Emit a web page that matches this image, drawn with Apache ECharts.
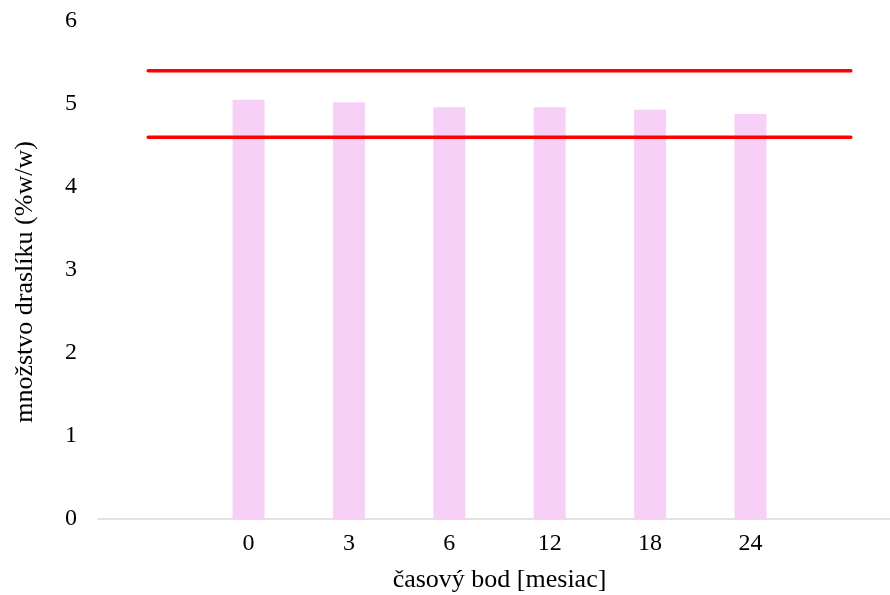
<!DOCTYPE html>
<html>
<head>
<meta charset="utf-8">
<script src="https://cdn.jsdelivr.net/npm/echarts@6/dist/echarts.min.js"></script>
<style>html,body{margin:0;padding:0;background:#fff;}#c{width:890px;height:595px;}</style>
</head>
<body>
<div id="c"></div>
<script>
var categories = ["", "0", "3", "6", "12", "18", "24", ""];
var potassium = [null, 5.05, 5.02, 4.96, 4.96, 4.93, 4.88, null];
var upperLimit = [5.4, 5.4, 5.4, 5.4, 5.4, 5.4, 5.4, 5.4];
var lowerLimit = [4.6, 4.6, 4.6, 4.6, 4.6, 4.6, 4.6, 4.6];
var yTicks = [0, 1, 2, 3, 4, 5, 6];

var font = 'Liberation Serif';
var chart = echarts.init(document.getElementById('c'), null, {renderer: 'canvas'});
chart.setOption({
  animation: false,
  backgroundColor: '#ffffff',
  textStyle: {fontFamily: font},
  grid: {left: 98, top: 21, width: 803, bottom: 76, containLabel: false, outerBoundsMode: 'none'},
  xAxis: {
    type: 'category',
    data: categories,
    boundaryGap: true,
    axisLine: {show: true, lineStyle: {color: '#D9D9D9', width: 1.5}},
    axisTick: {show: false},
    axisLabel: {color: '#000', fontFamily: font, fontSize: 24, margin: 13, interval: 0},
    name: 'časový bod [mesiac]',
    nameLocation: 'middle',
    nameGap: 48,
    nameTextStyle: {color: '#000', fontFamily: font, fontSize: 26},
    splitLine: {show: false}
  },
  yAxis: {
    type: 'value',
    min: yTicks[0],
    max: yTicks[yTicks.length - 1],
    interval: 1,
    axisLine: {show: false},
    axisTick: {show: false},
    splitLine: {show: false},
    axisLabel: {color: '#000', fontFamily: font, fontSize: 24, margin: 21},
    name: 'množstvo draslíku (%w/w)',
    nameLocation: 'middle',
    nameGap: 60,
    nameTextStyle: {color: '#000', fontFamily: font, fontSize: 26, padding: [0, 24, 0, 0]}
  },
  series: [
    {
      type: 'bar',
      data: potassium,
      barWidth: 32,
      itemStyle: {color: '#F7D0F8'},
      z: 1
    },
    {
      type: 'line',
      data: upperLimit,
      symbol: 'none',
      lineStyle: {color: '#FF0000', width: 3.5, cap: 'round'},
      z: 3
    },
    {
      type: 'line',
      data: lowerLimit,
      symbol: 'none',
      lineStyle: {color: '#FF0000', width: 3.5, cap: 'round'},
      z: 3
    }
  ]
});
</script>
</body>
</html>
